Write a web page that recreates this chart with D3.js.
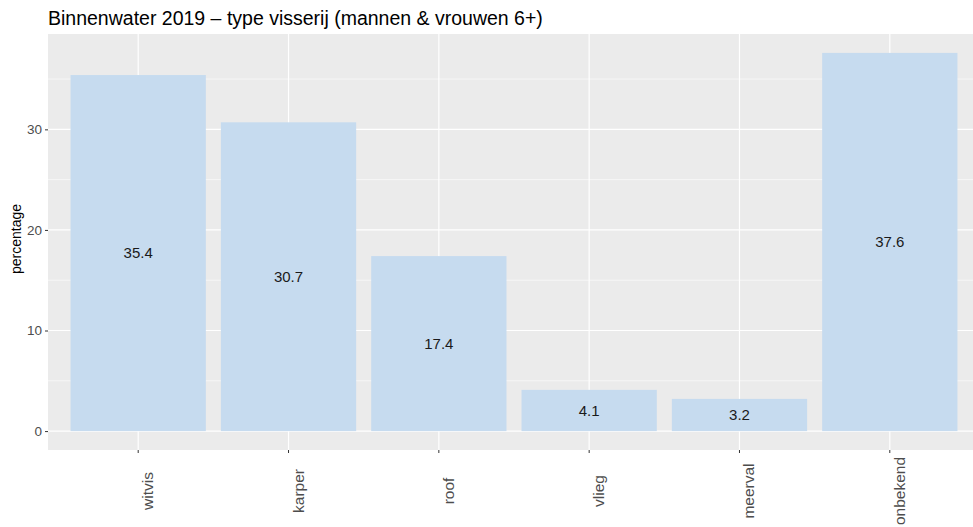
<!DOCTYPE html>
<html>
<head>
<meta charset="utf-8">
<script src="https://cdnjs.cloudflare.com/ajax/libs/d3/7.8.5/d3.min.js"></script>
<style>
  body { margin: 0; background: #fff; }
  text { font-family: "Liberation Sans", Arial, sans-serif; }
</style>
</head>
<body>
<svg id="chart" width="973" height="527"></svg>
<script>
var categories = ["witvis", "karper", "roof", "vlieg", "meerval", "onbekend"];
var values = [35.4, 30.7, 17.4, 4.1, 3.2, 37.6];
var yTicks = [0, 10, 20, 30];
var yMinor = [5, 15, 25, 35];

var svg = d3.select("#chart");
var pLeft = 48, pTop = 34, pRight = 980, pBottom = 450;

// ggplot-like expansion
var yMax = d3.max(values);
var y = d3.scaleLinear()
  .domain([-0.05 * yMax, yMax * 1.05])
  .range([pBottom, pTop]);

var step = (pRight - pLeft) / (categories.length + 0.2);
var x = d3.scaleBand()
  .domain(categories)
  .range([pLeft + 0.6 * step - step / 2, pRight - 0.6 * step + step / 2])
  .paddingInner(0.1)
  .paddingOuter(0.05);

// panel background
svg.append("rect")
  .attr("x", pLeft).attr("y", pTop)
  .attr("width", pRight - pLeft).attr("height", pBottom - pTop)
  .attr("fill", "#ebebeb");

// grid lines
svg.selectAll(".minor").data(yMinor).enter().append("line")
  .attr("x1", pLeft).attr("x2", pRight)
  .attr("y1", function(d) { return y(d); }).attr("y2", function(d) { return y(d); })
  .attr("stroke", "#fff").attr("stroke-width", 0.6);

svg.selectAll(".major").data(yTicks).enter().append("line")
  .attr("x1", pLeft).attr("x2", pRight)
  .attr("y1", function(d) { return y(d); }).attr("y2", function(d) { return y(d); })
  .attr("stroke", "#fff").attr("stroke-width", 1.2);

svg.selectAll(".vgrid").data(categories).enter().append("line")
  .attr("x1", function(d) { return x(d) + x.bandwidth() / 2; })
  .attr("x2", function(d) { return x(d) + x.bandwidth() / 2; })
  .attr("y1", pTop).attr("y2", pBottom)
  .attr("stroke", "#fff").attr("stroke-width", 1.2);

// bars
svg.selectAll(".bar").data(values).enter().append("rect")
  .attr("x", function(d, i) { return x(categories[i]); })
  .attr("width", x.bandwidth())
  .attr("y", function(d) { return y(d); })
  .attr("height", function(d) { return y(0) - y(d); })
  .attr("fill", "#c6dbef");

// bar labels
svg.selectAll(".lbl").data(values).enter().append("text")
  .attr("x", function(d, i) { return x(categories[i]) + x.bandwidth() / 2; })
  .attr("y", function(d) { return y(d / 2); })
  .attr("dy", "0.36em")
  .attr("text-anchor", "middle")
  .attr("font-size", "15px")
  .attr("fill", "#1a1a1a")
  .text(function(d) { return d.toFixed(1); });

// y axis
var yAxis = d3.axisLeft(y).tickValues(yTicks).tickSize(3).tickPadding(3);
var gy = svg.append("g").attr("transform", "translate(" + pLeft + ",0)").call(yAxis);
gy.select(".domain").remove();
gy.selectAll(".tick line").attr("stroke", "#333");
gy.selectAll(".tick text").attr("fill", "#4d4d4d").attr("font-size", "13.5px")
  .attr("font-family", "Liberation Sans, Arial, sans-serif");

// x axis
var xAxis = d3.axisBottom(x).tickSize(3).tickFormat("");
var gx = svg.append("g").attr("transform", "translate(0," + pBottom + ")").call(xAxis);
gx.select(".domain").remove();
gx.selectAll(".tick line").attr("stroke", "#333");

svg.selectAll(".xlbl").data(categories).enter().append("text")
  .attr("transform", function(d) {
    return "translate(" + (x(d) + x.bandwidth() / 2 + 15) + ",491) rotate(-90)";
  })
  .attr("text-anchor", "middle")
  .attr("font-size", "15.5px")
  .attr("fill", "#4d4d4d")
  .text(function(d) { return d; });

// y title
svg.append("text")
  .attr("transform", "translate(21," + ((pTop + pBottom) / 2 - 3) + ") rotate(-90)")
  .attr("text-anchor", "middle")
  .attr("font-size", "14px")
  .attr("fill", "#000")
  .text("percentage");

// title
svg.append("text")
  .attr("x", 48).attr("y", 25)
  .attr("font-size", "19.5px")
  .attr("fill", "#000")
  .text("Binnenwater 2019 \u2013 type visserij (mannen & vrouwen 6+)");
</script>
</body>
</html>
